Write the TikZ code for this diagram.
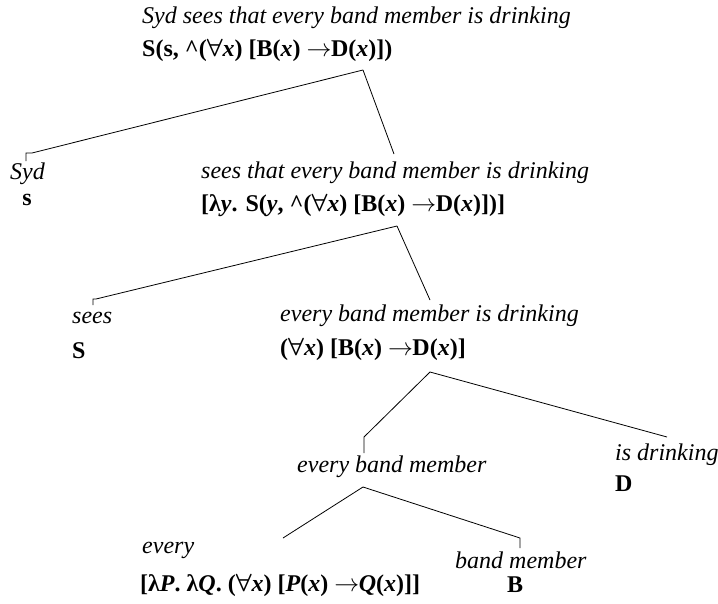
\documentclass[tikz,border=0pt]{standalone}
\usepackage{amsmath}
\usepackage{fontspec}
\setmainfont{Liberation Serif}
\newcommand{\myx}{\textbf{\textit{x}}}
\newcommand{\myall}{$\boldsymbol{\forall}$}
\newcommand{\myto}{$\rightarrow$\kern-0.5pt}
\newcommand{\mycaret}{\textbf{\textasciicircum}}
\begin{document}
\begin{tikzpicture}[x=1pt,y=-1pt,
  phrase/.style={inner sep=0pt,anchor=west,font=\fontsize{24}{28}\selectfont\itshape},
  formula/.style={inner sep=0pt,anchor=west,font=\fontsize{24}{28}\selectfont\bfseries},
  branch/.style={line width=0.8pt,black}]
\useasboundingbox (0,0) rectangle (718,603);
% root
\node[phrase] (r1) at (142,18) {Syd sees that every band member is drinking};
\node[formula] (r2) at (142,50) {S(s, \mycaret(\myall\myx) [B(\myx) \myto D(\myx)])};
% Syd
\node[phrase] (syd1) at (10,174) {Syd};
\node[formula,anchor=center] (syd2) at (27,200) {s};
% VP
\node[phrase] (vp1) at (201,173) {sees that every band member is drinking};
\node[formula] (vp2) at (201,205) {[λ\textit{y}. S(\textit{y}, \mycaret(\myall\myx) [B(\myx) \myto D(\myx)])]};
% sees
\node[phrase] (v1) at (72,318) {sees};
\node[formula] (v2) at (72,351) {S};
% S
\node[phrase] (s1) at (280,316) {every band member is drinking};
\node[formula] (s2) at (280,349) {(\myall\myx) [B(\myx) \myto D(\myx)]};
% NP
\node[phrase] (np1) at (297,467) {every band member};
% is drinking
\node[phrase] (d1) at (615,455) {is drinking};
\node[formula] (d2) at (615,484) {D};
% every
\node[phrase] (e1) at (142,550) {every};
\node[formula] (e2) at (140,585) {[λ\textit{P}. λ\textit{Q}. (\myall\myx) [\textit{P}(\myx) \myto\textit{Q}(\myx)]]};
% band member
\node[phrase] (b1) at (455,560) {band member};
\node[formula,anchor=center] (b2) at (515,585) {B};
% branch points
\coordinate (a1) at (363,70);
\coordinate (a1l) at (32,153);
\coordinate (a1lt) at (26,161);
\coordinate (a1r) at (394,154);
\coordinate (a2) at (397,226);
\coordinate (a2l) at (96,299);
\coordinate (a2lt) at (93,305);
\coordinate (a2r) at (430,300);
\coordinate (a3) at (430,372);
\coordinate (a3l) at (364,437);
\coordinate (a3lt) at (364,453);
\coordinate (a3r) at (667,437);
\coordinate (a4) at (363,487);
\coordinate (a4l) at (283,538);
\coordinate (a4r) at (520,538);
\coordinate (a4rt) at (520,548);
\draw[branch] (a1) -- (a1l) -| (a1lt);
\draw[branch] (a1) -- (a1r);
\draw[branch] (a2) -- (a2l) -| (a2lt);
\draw[branch] (a2) -- (a2r);
\draw[branch] (a3) -- (a3l) -- (a3lt);
\draw[branch] (a3) -- (a3r);
\draw[branch] (a4) -- (a4l);
\draw[branch] (a4) -- (a4r) -- (a4rt);
\end{tikzpicture}
\end{document}
